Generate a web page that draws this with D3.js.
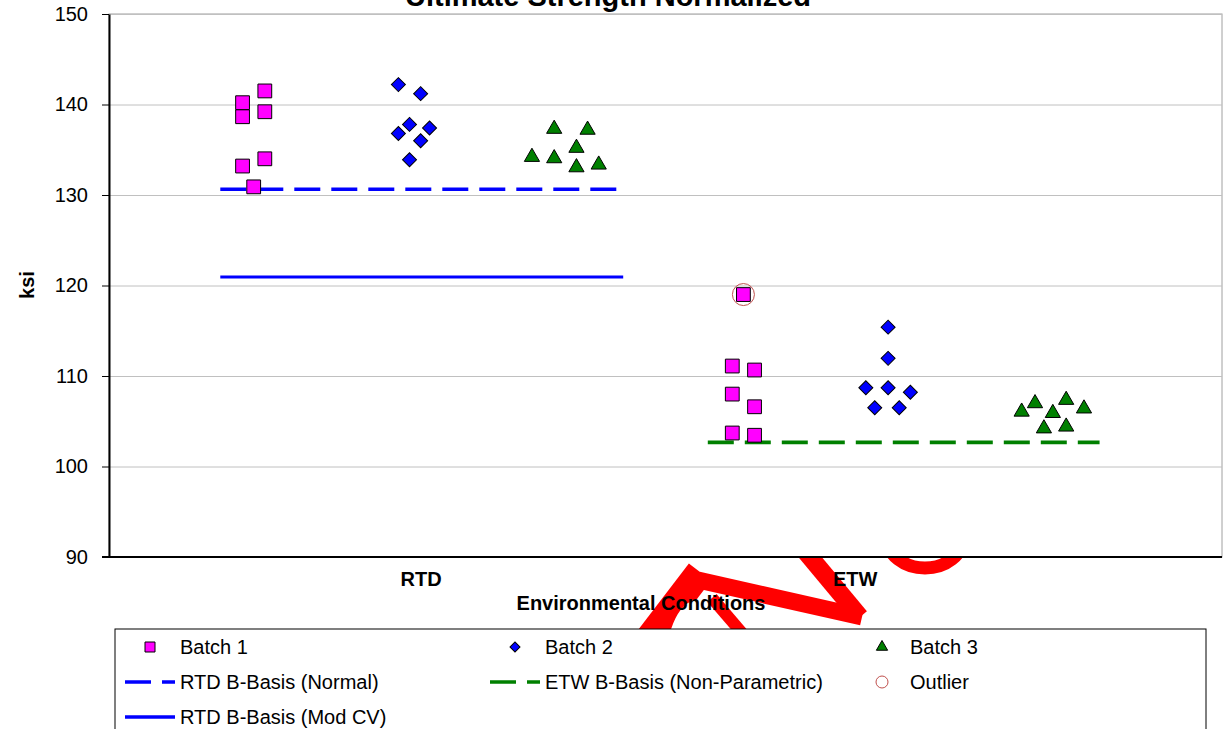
<!DOCTYPE html>
<html>
<head>
<meta charset="utf-8">
<script src="https://cdn.jsdelivr.net/npm/d3@7"></script>
<style>
  html, body { margin: 0; padding: 0; background: #ffffff; }
  svg { display: block; font-family: "Liberation Sans", Arial, sans-serif; }
</style>
</head>
<body>
<svg id="chart" width="1225" height="729"></svg>
<script>
// ---------------- DATA ----------------
const chartTitle = "Ultimate Strength Normalized";
const yTitle = "ksi";
const xTitle = "Environmental Conditions";
const yTicks = [90, 100, 110, 120, 130, 140, 150];
const categories = ["RTD", "ETW"];
const categoryPos = [2.8, 6.7];

// [x position (jitter units), value in ksi]
const batch1 = [
  [1.4, 141.5], [1.4, 139.2], [1.4, 134.0], [1.2, 140.2], [1.2, 138.65], [1.2, 133.2], [1.3, 130.9],
  [5.7, 119.0], [5.6, 111.1], [5.8, 110.66], [5.6, 108.0], [5.8, 106.6], [5.6, 103.7], [5.8, 103.45]
];
const batch2 = [
  [2.6, 142.2], [2.8, 141.2], [2.7, 137.8], [2.88, 137.4], [2.6, 136.8], [2.8, 136.0], [2.7, 133.9],
  [7.0, 115.4], [7.0, 111.95], [6.8, 108.7], [7.0, 108.7], [7.2, 108.2], [6.88, 106.5], [7.1, 106.5]
];
const batch3 = [
  [4.0, 137.3], [4.3, 137.2], [4.2, 135.2], [3.8, 134.2], [4.0, 134.05], [4.2, 133.05], [4.4, 133.35],
  [8.2, 106.05], [8.32, 106.98], [8.48, 105.9], [8.4, 104.2], [8.6, 107.35], [8.6, 104.4], [8.76, 106.4]
];
const outliers = [[5.7, 119.0]];
const rtdNormal = [[1.0, 130.63], [4.62, 130.63]];
const rtdModCV = [[1.0, 120.94], [4.62, 120.94]];
const etwNonPar = [[5.38, 102.67], [8.9, 102.67]];

const legendLabels = ["Batch 1", "Batch 2", "Batch 3",
  "RTD B-Basis (Normal)", "ETW B-Basis (Non-Parametric)", "Outlier", "RTD B-Basis (Mod CV)"];

// ---------------- LAYOUT ----------------
const svg = d3.select("#chart");
const W = 1225, H = 729;
const plot = { left: 109, right: 1222, top: 14, bottom: 557 };
const x = d3.scaleLinear().domain([0, 10]).range([plot.left, plot.right]);
const y = d3.scaleLinear().domain([90, 150]).range([plot.bottom, plot.top]);

const C = {
  magenta: "#FF00FF", blue: "#0000FF", green: "#008000",
  outlier: "#C0504D", grid: "#C0C0C0", axis: "#000000", wm: "#FF0000"
};
const FONT = 20;

svg.append("rect").attr("width", W).attr("height", H).attr("fill", "#fff");

// ---------------- WATERMARK (decorative, behind everything) ----------------
const wm = svg.append("g");
wm.append("clipPath").attr("id", "wmclip").append("rect")
  .attr("x", 0).attr("y", plot.bottom).attr("width", W).attr("height", 629 - plot.bottom);
const wmg = wm.append("g").attr("clip-path", "url(#wmclip)");
const wmLine = d3.line();
[
  { pts: [[648, 640], [700, 572]], w: 28 },
  { pts: [[698, 580], [862, 617]], w: 17 },
  { pts: [[800, 545], [860, 617]], w: 18 },
  { pts: [[712, 598], [748, 640]], w: 12 }
].forEach(s => {
  wmg.append("path").attr("d", wmLine(s.pts)).attr("stroke", C.wm)
    .attr("stroke-width", s.w).attr("fill", "none").attr("stroke-linecap", "butt");
});
wmg.append("ellipse").attr("cx", 925).attr("cy", 538).attr("rx", 38).attr("ry", 30)
  .attr("fill", "none").attr("stroke", C.wm).attr("stroke-width", 13);
// white cut between strokes
wmg.append("path").attr("d", "M668,640 Q676,606 694,600 L700,606 Q684,616 680,640 Z").attr("fill", "#fff");

// plot area background
svg.append("rect").attr("x", plot.left).attr("y", plot.top)
  .attr("width", plot.right - plot.left).attr("height", plot.bottom - plot.top)
  .attr("fill", "#fff").attr("stroke", "#A0A0A0").attr("stroke-width", 1);

// gridlines
const grid = svg.append("g").attr("transform", `translate(${plot.left},0)`)
  .call(d3.axisLeft(y).tickValues(yTicks).tickSize(-(plot.right - plot.left)).tickFormat(""));
grid.select(".domain").remove();
grid.selectAll("line").attr("stroke", C.grid).attr("stroke-width", 1);

// y axis
const yAxis = svg.append("g").attr("transform", `translate(${plot.left},0)`)
  .call(d3.axisLeft(y).tickValues(yTicks).tickSize(7).tickPadding(14).tickSizeOuter(0));
yAxis.select(".domain").attr("stroke", C.axis).attr("stroke-width", 2);
yAxis.selectAll(".tick line").attr("stroke", C.axis).attr("stroke-width", 1);
yAxis.selectAll("text").attr("font-size", FONT).attr("fill", "#000")
  .attr("font-family", "Liberation Sans, Arial, sans-serif");

// x axis (category labels)
const xAxis = svg.append("g").attr("transform", `translate(0,${plot.bottom})`)
  .call(d3.axisBottom(x).tickValues(categoryPos).tickFormat((d, i) => categories[i])
    .tickSize(0).tickPadding(15).tickSizeOuter(0));
xAxis.select(".domain").attr("stroke", C.axis).attr("stroke-width", 2)
  .attr("d", `M${plot.left - 7},0H${plot.right}`);
xAxis.selectAll("text").attr("font-size", FONT).attr("font-weight", "bold").attr("fill", "#000")
  .attr("font-family", "Liberation Sans, Arial, sans-serif");

// titles
svg.append("text").attr("x", 608).attr("y", 6).attr("text-anchor", "middle")
  .attr("font-size", 29).attr("font-weight", "bold").text(chartTitle);
svg.append("text").attr("x", 641).attr("y", 610).attr("text-anchor", "middle")
  .attr("font-size", FONT).attr("font-weight", "bold").text(xTitle);
svg.append("text").attr("transform", "translate(34,285) rotate(-90)").attr("text-anchor", "middle")
  .attr("font-size", FONT).attr("font-weight", "bold").text(yTitle);

// reference lines
const line = d3.line().x(d => x(d[0])).y(d => y(d[1]));
svg.append("path").attr("d", line(rtdModCV)).attr("stroke", C.blue).attr("stroke-width", 3.2).attr("fill", "none");
svg.append("path").attr("d", line(rtdNormal)).attr("stroke", C.blue).attr("stroke-width", 3.6)
  .attr("stroke-dasharray", "26,11").attr("fill", "none");
svg.append("path").attr("d", line(etwNonPar)).attr("stroke", C.green).attr("stroke-width", 3.6)
  .attr("stroke-dasharray", "26,11").attr("fill", "none");

// markers
const sq = d3.symbol().type(d3.symbolSquare).size(190);
const dia = d3.symbol().type(d3.symbolSquare).size(98);
const tri = d3.symbol().type(d3.symbolTriangle).size(100);

function drawSeries(data, gen, fill, rot) {
  svg.append("g").selectAll("path").data(data).join("path")
    .attr("d", gen())
    .attr("transform", d => `translate(${x(d[0])},${y(d[1])})${rot ? " rotate(45)" : ""}`)
    .attr("fill", fill).attr("stroke", "#000").attr("stroke-width", 1);
}
drawSeries(batch1, sq, C.magenta, false);
drawSeries(batch2, dia, C.blue, true);
drawSeries(batch3, tri, C.green, false);

svg.append("g").selectAll("circle").data(outliers).join("circle")
  .attr("cx", d => x(d[0])).attr("cy", d => y(d[1])).attr("r", 11)
  .attr("fill", "none").attr("stroke", C.outlier).attr("stroke-width", 1);

// ---------------- LEGEND ----------------
const lg = svg.append("g");
lg.append("rect").attr("x", 115).attr("y", 629).attr("width", 1206 - 115).attr("height", 130)
  .attr("fill", "#fff").attr("stroke", "#000").attr("stroke-width", 1);
const colX = [150, 515, 882];
const textX = [180, 545, 910];
const rowY = [647, 682, 717];
const items = [
  { type: "sq", col: 0, row: 0 }, { type: "dia", col: 1, row: 0 }, { type: "tri", col: 2, row: 0 },
  { type: "dash", color: C.blue, col: 0, row: 1 }, { type: "dash", color: C.green, col: 1, row: 1 },
  { type: "circ", col: 2, row: 1 }, { type: "solid", color: C.blue, col: 0, row: 2 }
];
items.forEach((it, i) => {
  const cx = colX[it.col], cy = rowY[it.row];
  const g = lg.append("g");
  if (it.type === "sq") {
    g.append("path").attr("d", d3.symbol().type(d3.symbolSquare).size(100)())
      .attr("transform", `translate(${cx},${cy})`).attr("fill", C.magenta).attr("stroke", "#000");
  } else if (it.type === "dia") {
    g.append("path").attr("d", d3.symbol().type(d3.symbolSquare).size(50)())
      .attr("transform", `translate(${cx},${cy}) rotate(45)`).attr("fill", C.blue).attr("stroke", "#000");
  } else if (it.type === "tri") {
    g.append("path").attr("d", d3.symbol().type(d3.symbolTriangle).size(55)())
      .attr("transform", `translate(${cx},${cy})`).attr("fill", C.green).attr("stroke", "#000");
  } else if (it.type === "circ") {
    g.append("circle").attr("cx", cx).attr("cy", cy).attr("r", 6)
      .attr("fill", "none").attr("stroke", C.outlier).attr("stroke-width", 1);
  } else {
    g.append("line").attr("x1", cx - 25).attr("x2", cx + 25).attr("y1", cy).attr("y2", cy)
      .attr("stroke", it.color).attr("stroke-width", 3.6)
      .attr("stroke-dasharray", it.type === "dash" ? "26,11" : null);
  }
  g.append("text").attr("x", textX[it.col]).attr("y", cy + 7).attr("font-size", FONT)
    .attr("fill", "#000").text(legendLabels[i]);
});
</script>
</body>
</html>
